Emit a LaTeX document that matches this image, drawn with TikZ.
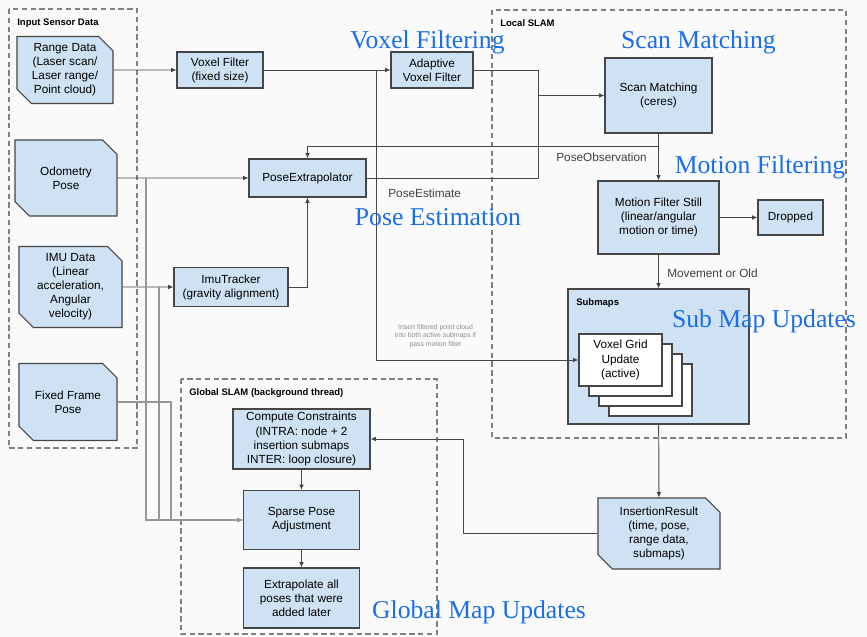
\documentclass[tikz,border=0pt]{standalone}
\usepackage{fontspec}
\setmainfont{Liberation Serif}
\setsansfont{Liberation Sans}
\usetikzlibrary{shapes.misc,arrows.meta}
\definecolor{boxblue}{RGB}{207,226,243}
\definecolor{edgegray}{RGB}{70,70,70}
\definecolor{tapgray}{RGB}{150,150,150}
\definecolor{noteblue}{RGB}{26,110,235}
\definecolor{paper}{RGB}{250,250,250}

\begin{document}
\begin{tikzpicture}[
  box/.style={draw=edgegray,fill=boxblue,line width=0.6pt,align=center,inner sep=1pt,font=\sffamily\fontsize{6.7}{8}\selectfont},
  snipbox/.style={box,chamfered rectangle,chamfered rectangle corners={north east,south west},chamfered rectangle xsep=0.18cm},
  group/.style={draw=gray,line width=0.6pt,dash pattern=on 3pt off 2pt},
  grouplabel/.style={anchor=west,inner sep=0pt,font=\sffamily\bfseries\fontsize{5.4}{6}\selectfont},
  wire/.style={draw=black!72,line width=0.55pt},
  link/.style={wire,-{Latex[length=3pt,width=2.6pt]}},
  tap/.style={draw=tapgray,line width=0.6pt,-{Latex[length=3pt,width=2.6pt]}},
  tag/.style={anchor=west,inner sep=0pt,text=black!75,font=\sffamily\fontsize{6.7}{8}\selectfont},
  hint/.style={align=center,inner sep=0pt,text=black!45,font=\sffamily\fontsize{3.9}{4.7}\selectfont},
  note/.style={inner sep=0pt,text=noteblue,font=\fontsize{14.6}{16}\selectfont}
]
\fill[paper] (0,0) rectangle (17.34,-12.74);
\useasboundingbox (0,0) rectangle (17.34,-12.74);

% groups
\draw[group] (0.18,-0.18) rectangle (2.74,-8.96);
\draw[group] (9.84,-0.20) rectangle (16.92,-8.76);
\draw[group] (3.62,-7.58) rectangle (8.74,-12.68);
\node[grouplabel] (inputTitle) at (0.34,-0.46) {Input Sensor Data};
\node[grouplabel] (localTitle) at (10.00,-0.46) {Local SLAM};
\node[grouplabel] (globalTitle) at (3.78,-7.86) {Global SLAM (background thread)};

% sensor data
\node[snipbox,minimum width=1.92cm,minimum height=1.34cm] (range) at (1.30,-1.40) {Range Data\\(Laser scan/\\Laser range/\\Point cloud)};
\node[snipbox,minimum width=2.04cm,minimum height=1.52cm] (odom) at (1.32,-3.56) {Odometry\\Pose};
\node[snipbox,minimum width=2.06cm,minimum height=1.56cm] (imu) at (1.41,-5.74) {IMU Data\\(Linear\\acceleration,\\Angular\\velocity)};
\node[snipbox,minimum width=1.96cm,minimum height=1.54cm] (fixed) at (1.36,-8.04) {Fixed Frame\\Pose};

% filters and pose
\node[box,minimum width=1.72cm,minimum height=0.72cm] (voxel) at (4.40,-1.40) {Voxel Filter\\(fixed size)};
\node[box,minimum width=1.64cm,minimum height=0.72cm] (adaptive) at (8.64,-1.40) {Adaptive\\Voxel Filter};
\node[box,minimum width=2.34cm,minimum height=0.76cm] (extrap) at (6.15,-3.56) {PoseExtrapolator};
\node[box,minimum width=2.28cm,minimum height=0.78cm] (imutrack) at (4.62,-5.74) {ImuTracker\\(gravity alignment)};

% local slam
\node[box,minimum width=2.14cm,minimum height=1.50cm] (scan) at (13.17,-1.91) {Scan Matching\\(ceres)};
\node[box,minimum width=2.42cm,minimum height=1.46cm] (motion) at (13.17,-4.35) {Motion Filter Still\\(linear/angular\\motion or time)};
\node[box,minimum width=1.30cm,minimum height=0.70cm] (dropped) at (15.81,-4.35) {Dropped};
\node[box,minimum width=3.62cm,minimum height=2.70cm] (submaps) at (13.17,-7.13) {};
\node[grouplabel] (submapsTitle) at (11.52,-6.06) {Submaps};
\foreach \k in {3,2,1}
  \draw[draw=edgegray,fill=white,line width=0.6pt] (11.58+0.2*\k,-6.68-0.2*\k) rectangle ++(1.66,-1.04);
\node[box,fill=white,minimum width=1.66cm,minimum height=1.04cm] (grid) at (12.41,-7.20) {Voxel Grid\\Update\\(active)};
\node[snipbox,minimum width=2.44cm,minimum height=1.42cm] (insertion) at (13.18,-10.67) {InsertionResult\\(time, pose,\\range data,\\submaps)};

% global slam
\node[box,minimum width=2.74cm,minimum height=1.20cm] (compute) at (6.03,-8.78) {Compute Constraints\\(INTRA: node + 2\\insertion submaps\\INTER: loop closure)};
\node[box,minimum width=2.32cm,minimum height=1.18cm] (spa) at (6.03,-10.40) {Sparse Pose\\Adjustment};
\node[box,minimum width=2.32cm,minimum height=1.20cm] (extrapall) at (6.03,-11.96) {Extrapolate all\\poses that were\\added later};

% junctions
\coordinate (insTap) at (7.52,-1.40);
\coordinate (mergeTop) at (10.76,-1.40);
\coordinate (obsTap) at (13.17,-2.92);
\coordinate (backTurn) at (9.26,-10.67);
\coordinate (odoTap) at (2.92,-3.56);
\coordinate (imuTap) at (3.18,-5.74);
\coordinate (fixTurn) at (3.42,-8.04);

% connectors
\path[link] (range) edge (voxel);
\path[link] (voxel) edge (adaptive);
\draw[link] (insTap) |- (grid.west);
\draw[wire] (adaptive.east) -- (mergeTop) -- (mergeTop |- extrap.east) -- (extrap.east);
\draw[link] (mergeTop |- scan.west) -- (scan.west);
\path[link] (scan) edge (motion);
\draw[link] (obsTap) -| (extrap.north);
\path[link] (motion) edge (dropped);
\path[link] (motion) edge (submaps);
\path[link] (submaps) edge (insertion);
\draw[link] (insertion.west) -| (backTurn |- compute.east) -- (compute.east);
\path[link] (compute) edge (spa);
\path[link] (spa) edge (extrapall);
\path[link] (odom) edge (extrap);
\path[link] (imu) edge (imutrack);
\draw[link] (imutrack.east) -| (extrap.south);
\draw[tap] (odoTap) |- (spa.west);
\draw[tap] (imuTap) |- (spa.west);
\draw[tap] (fixed.east) -- (fixTurn) |- (spa.west);

% edge labels
\node[tag] (estimateTag) at (7.76,-3.86) {PoseEstimate};
\node[tag] (observationTag) at (11.12,-3.14) {PoseObservation};
\node[tag] (movementTag) at (13.34,-5.46) {Movement or Old};
\node[hint] (insertHint) at (8.71,-6.72) {Insert filtered point cloud\\into both active submaps if\\pass motion filter};

% stage notes
\node[note] (noteVoxel) at (8.55,-0.84) {Voxel Filtering};
\node[note] (noteScan) at (13.97,-0.84) {Scan Matching};
\node[note] (noteMotion) at (15.20,-3.34) {Motion Filtering};
\node[note] (notePose) at (8.76,-4.34) {Pose Estimation};
\node[note] (noteSubmap) at (15.28,-6.42) {Sub Map Updates};
\node[note] (noteGlobal) at (9.58,-12.24) {Global Map Updates};
\end{tikzpicture}
\end{document}
